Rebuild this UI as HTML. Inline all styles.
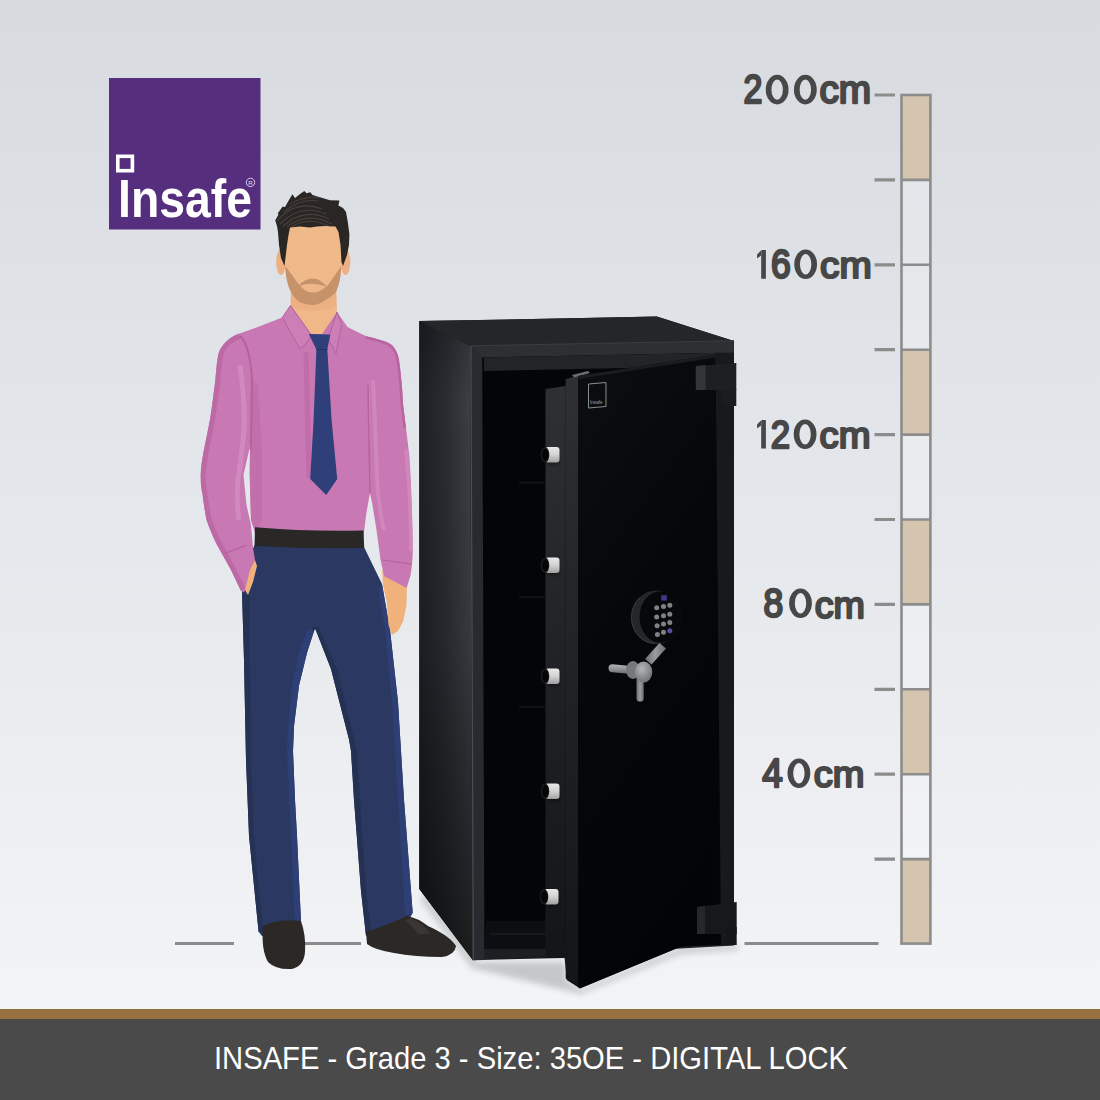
<!DOCTYPE html>
<html><head><meta charset="utf-8">
<style>
html,body{margin:0;padding:0;width:1100px;height:1100px;overflow:hidden;background:#e6e8ec;}
svg{display:block;position:absolute;left:0;top:0;}
.lbl{font-family:"Liberation Sans",sans-serif;font-weight:normal;fill:#474747;stroke:#474747;stroke-width:2.5px;stroke-linejoin:round;font-size:41.5px;}
</style></head><body>
<svg width="1100" height="1100" viewBox="0 0 1100 1100">
<defs>
<linearGradient id="bg" x1="0" y1="0" x2="0" y2="1">
<stop offset="0" stop-color="#d7dbe0"/>
<stop offset="0.5" stop-color="#e4e7eb"/>
<stop offset="1" stop-color="#f3f4f6"/>
</linearGradient>
</defs>
<!-- background -->
<rect x="0" y="0" width="1100" height="1010" fill="url(#bg)"/>

<!-- LOGO -->
<g id="logo">
<rect x="109" y="78" width="151.5" height="151.5" fill="#552f7e"/>
<rect x="117.8" y="156.3" width="14.6" height="14.4" fill="none" stroke="#fff" stroke-width="3.6"/>
<text x="118" y="216.5" font-family="Liberation Sans" font-weight="bold" font-size="54" fill="#fff" textLength="134" lengthAdjust="spacingAndGlyphs">Insafe</text>
<circle cx="250.5" cy="182.4" r="4.2" fill="none" stroke="#e6dcef" stroke-width="0.9"/>
<text x="250.6" y="184.6" font-family="Liberation Sans" font-size="6.2" fill="#e6dcef" text-anchor="middle">R</text>
</g>

<!-- RULER -->
<g id="ruler">
<rect x="901.5" y="95" width="28.9" height="848" fill="#fff" fill-opacity="0.22"/>
<rect x="901.5" y="95" width="28.9" height="84.9" fill="#d5c5ae"/>
<rect x="901.5" y="349.6" width="28.9" height="84.9" fill="#d5c5ae"/>
<rect x="901.5" y="519.4" width="28.9" height="84.9" fill="#d5c5ae"/>
<rect x="901.5" y="689.2" width="28.9" height="84.9" fill="#d5c5ae"/>
<rect x="901.5" y="859" width="28.9" height="84.9" fill="#d5c5ae"/>
<g stroke="#8c8c8c" stroke-width="2.6" fill="none">
<rect x="901.5" y="95" width="28.9" height="848.6"/>
<path d="M901 179.9H931M901 264.8H931M901 349.7H931M901 434.6H931M901 519.5H931M901 604.4H931M901 689.3H931M901 774.2H931M901 859.1H931"/>
</g>
<g stroke="#8c8c8c" stroke-width="3.2">
<path d="M874.5 95H895M874.5 179.9H895M874.5 264.8H895M874.5 349.7H895M874.5 434.6H895M874.5 519.5H895M874.5 604.4H895M874.5 689.3H895M874.5 774.2H895M874.5 859.1H895"/>
</g>
<g stroke="#8a8b8b" stroke-width="3">
<path d="M744.5 943.5H878.5M175 943.5H234M305 943.5H361"/>
</g>
<text class="lbl" transform="translate(743.48 102.74) scale(0.8190 0.9600)">2</text>
<path fill="#474747" fill-rule="evenodd" d="M765.75 89.65a11.4 14.8 0 1 0 22.80 0a11.4 14.8 0 1 0 -22.80 0ZM771.45 89.65a5.70 10.20 0 1 0 11.40 0a5.70 10.20 0 1 0 -11.40 0Z"/>
<path fill="#474747" fill-rule="evenodd" d="M793.95 89.65a11.4 14.8 0 1 0 22.80 0a11.4 14.8 0 1 0 -22.80 0ZM799.65 89.65a5.70 10.20 0 1 0 11.40 0a5.70 10.20 0 1 0 -11.40 0Z"/>
<text class="lbl" transform="translate(819.46 103.48) scale(0.9358 0.9208)">cm</text>
<path fill="#474747" d="M761.2 250.1 L765.9 250.1 L765.9 278.8 L761.2 278.8 ZM761.4 250.1 L757.1 254.4 L757.1 258.5 L761.4 255.29999999999998 Z"/>
<text class="lbl" transform="translate(771.05 278.42) scale(0.8545 0.9767)">6</text>
<path fill="#474747" fill-rule="evenodd" d="M794.25 264.30a11.4 14.8 0 1 0 22.80 0a11.4 14.8 0 1 0 -22.80 0ZM799.95 264.30a5.70 10.20 0 1 0 11.40 0a5.70 10.20 0 1 0 -11.40 0Z"/>
<text class="lbl" transform="translate(820.07 278.23) scale(0.9340 0.8750)">cm</text>
<path fill="#474747" d="M761.2 420.1 L765.9 420.1 L765.9 448.6 L761.2 448.6 ZM761.4 420.1 L757.1 424.40000000000003 L757.1 428.5 L761.4 425.3 Z"/>
<text class="lbl" transform="translate(770.76 447.65) scale(0.8381 0.9500)">2</text>
<path fill="#474747" fill-rule="evenodd" d="M793.70 434.25a11.4 14.8 0 1 0 22.80 0a11.4 14.8 0 1 0 -22.80 0ZM799.40 434.25a5.70 10.20 0 1 0 11.40 0a5.70 10.20 0 1 0 -11.40 0Z"/>
<text class="lbl" transform="translate(819.58 448.10) scale(0.9208 0.8958)">cm</text>
<text class="lbl" transform="translate(763.55 617.40) scale(0.8545 1.0000)">8</text>
<path fill="#474747" fill-rule="evenodd" d="M789.10 603.30a11.4 14.8 0 1 0 22.80 0a11.4 14.8 0 1 0 -22.80 0ZM794.80 603.30a5.70 10.20 0 1 0 11.40 0a5.70 10.20 0 1 0 -11.40 0Z"/>
<text class="lbl" transform="translate(814.69 617.50) scale(0.9075 0.9042)">cm</text>
<text class="lbl" transform="translate(762.30 786.84) scale(0.8870 0.9633)">4</text>
<path fill="#474747" fill-rule="evenodd" d="M787.50 773.30a11.4 14.8 0 1 0 22.80 0a11.4 14.8 0 1 0 -22.80 0ZM793.20 773.30a5.70 10.20 0 1 0 11.40 0a5.70 10.20 0 1 0 -11.40 0Z"/>
<text class="lbl" transform="translate(813.68 787.33) scale(0.9170 0.8750)">cm</text>
</g>


<!-- SAFE -->
<g id="safe">
<defs>
<linearGradient id="sidegr" x1="0" y1="0" x2="1" y2="0">
<stop offset="0" stop-color="#1c2024"/><stop offset="0.5" stop-color="#292d31"/><stop offset="0.93" stop-color="#3a3e42"/><stop offset="1" stop-color="#3a3e42"/>
</linearGradient>
<linearGradient id="vdark" x1="0" y1="0" x2="0" y2="1">
<stop offset="0" stop-color="#000" stop-opacity="0.22"/><stop offset="0.12" stop-color="#000" stop-opacity="0"/><stop offset="0.5" stop-color="#000" stop-opacity="0.1"/><stop offset="1" stop-color="#000" stop-opacity="0.55"/>
</linearGradient>
<linearGradient id="vlight" x1="0" y1="0" x2="0" y2="1">
<stop offset="0" stop-color="#fff" stop-opacity="0.08"/><stop offset="0.25" stop-color="#fff" stop-opacity="0"/>
</linearGradient>
<linearGradient id="edgegr" x1="0" y1="0" x2="0" y2="1">
<stop offset="0" stop-color="#2e3033"/><stop offset="0.4" stop-color="#222427"/><stop offset="1" stop-color="#131518"/>
</linearGradient>
<linearGradient id="doorgr" x1="0" y1="0" x2="0.3" y2="1">
<stop offset="0" stop-color="#0c0e11"/><stop offset="0.45" stop-color="#06070a"/><stop offset="1" stop-color="#030405"/>
</linearGradient>
<linearGradient id="bolt" x1="0" y1="0" x2="0" y2="1">
<stop offset="0" stop-color="#e8e8e8"/><stop offset="0.5" stop-color="#d2d2d2"/><stop offset="1" stop-color="#a0a0a0"/>
</linearGradient>
<linearGradient id="steel" x1="0" y1="0" x2="0" y2="1">
<stop offset="0" stop-color="#b0b2b4"/><stop offset="0.5" stop-color="#8e9093"/><stop offset="1" stop-color="#5f6164"/>
</linearGradient>
<linearGradient id="steelv" x1="0" y1="0" x2="1" y2="0">
<stop offset="0" stop-color="#6a6c6f"/><stop offset="0.5" stop-color="#9a9c9f"/><stop offset="1" stop-color="#6a6c6f"/>
</linearGradient>
<radialGradient id="hubgr" cx="0.4" cy="0.35" r="0.7">
<stop offset="0" stop-color="#b4b6b8"/><stop offset="1" stop-color="#6e7073"/>
</radialGradient>
<filter id="blur4" x="-50%" y="-50%" width="200%" height="200%"><feGaussianBlur stdDeviation="4"/></filter>
<filter id="blur3" x="-50%" y="-50%" width="200%" height="200%"><feGaussianBlur stdDeviation="3"/></filter>
<filter id="blur2" x="-50%" y="-50%" width="200%" height="200%"><feGaussianBlur stdDeviation="2"/></filter>
</defs>
<!-- shadow -->
<path d="M424 893 L476 962 L566 962 L566 980 L581 989 L680 948 L738 945 L738 950 L680 954 L581 994 L472 968 L421 900 Z" fill="#000" opacity="0.18" filter="url(#blur3)"/>
<!-- base silhouette -->
<path d="M419.3 321.1 L656.8 316.6 L733.9 341.1 L733.9 945 L680 947 L580 988 L567 980 L564.5 958 L472.7 960 L419.3 889 Z" fill="#1a1c1f"/>
<!-- top face -->
<path d="M419.3 321.1 L656.8 316.6 L733.9 341.1 L470 346.2 Z" fill="#242629"/>
<!-- side face -->
<path d="M419.3 321.1 L470.3 346.2 L472.7 960 L419.3 889 Z" fill="url(#sidegr)"/>
<path d="M419.3 321.1 L470.3 346.2 L472.7 960 L419.3 889 Z" fill="url(#vdark)"/>
<!-- front frame -->
<path d="M470 345.8 L733.9 340.8 L733.9 945.5 L472.7 960.3 Z" fill="#1d1f22"/>
<path d="M470 345.8 L733.9 340.8 L733.9 352.8 L482.3 357.5 Z" fill="#2d2f32"/>
<path d="M470 345.8 L733.9 340.8" stroke="#3b3d40" stroke-width="1"/>
<path d="M470 345.8 L482.3 357.5 L484.5 960 L472.7 960.3 Z" fill="#272b2f"/>
<path d="M470.3 346 L471.5 346 L473.9 960 L472.7 960 Z" fill="#4a4e52"/>
<!-- interior -->
<path d="M482.3 357.5 L722 352.8 L722 945 L484.5 949 Z" fill="#030507"/>
<path d="M484 357.5 L722 352.8 L722 366 L484 371 Z" fill="#222427"/>
<path d="M486 921 L546 921 L546 949 L484.5 949 Z" fill="#0c0e11"/>
<path d="M490 934 L546 934" stroke="#16181b" stroke-width="2"/>
<g stroke="#101316" stroke-width="2.2">
<path d="M519 482.6H545M519 597H545M519 707H545"/>
</g>
<!-- right body strip -->
<path d="M715.5 353 L733.9 352.8 L733.9 945 L721 945 Z" fill="#17191c"/>
<!-- door inner strip -->
<path d="M545.5 389 L565.7 386 L565.7 958 L545.5 958 Z" fill="url(#edgegr)"/>
<!-- door edge -->
<path d="M565.7 379 L578 376 L580 988.5 L567 980 L565.7 978 Z" fill="url(#edgegr)"/>
<path d="M572 375 L588 371 L590 373 L574 377.5 Z" fill="#6a6c6f"/>
<!-- door face -->
<path d="M578 376 L715.5 354.5 L718 944 L680 947 L580 988.5 L578 987 Z" fill="url(#doorgr)"/>
<path d="M578 376 L715.5 354.5 L715.5 357.5 L578 379 Z" fill="#1a1c1f"/>
<!-- door logo -->
<path d="M588.5 384 L606 382.5 L606 406.5 L588.5 408 Z" fill="none" stroke="#9a9b9d" stroke-width="0.9"/>
<text x="590" y="404" font-family="Liberation Sans" font-size="4.6" fill="#a0a1a3">Insafe</text>
<!-- hinges -->
<path d="M695.8 366 L736.3 363 L736.3 390 L695.8 390 Z" fill="#1d1f22"/>
<path d="M695.8 366 L705.6 365.3 L705.6 390 L695.8 390 Z" fill="#333538"/>
<path d="M722.8 389 L736.3 389 L736.3 406 L722.8 406 Z" fill="#1a1c1f"/>
<path d="M697 907 L736.7 902 L736.7 934 L697 934 Z" fill="#16181b"/>
<path d="M697 907 L705 906 L705 934 L697 934 Z" fill="#25272a"/>
<path d="M726.5 927 L736.7 927 L736.7 945 L727.8 945 Z" fill="#131518"/>
<!-- bolts -->
<g id="bolts">
<g id="b1">
<ellipse cx="553" cy="461" rx="7" ry="3" fill="#000" opacity="0.5" filter="url(#blur2)"/>
<rect x="545" y="447" width="14.5" height="15.5" rx="3" fill="url(#bolt)"/><ellipse cx="545" cy="454.7" rx="4.3" ry="7.7" fill="#1a1a1a"/><ellipse cx="545.3" cy="454.7" rx="3" ry="6" fill="#050505"/>
</g>
<use href="#b1" transform="translate(0,110.5)"/>
<use href="#b1" transform="translate(0,221.5)"/>
<use href="#b1" transform="translate(0,336.5)"/>
<use href="#b1" transform="translate(-1,442)"/>
</g>
<!-- keypad -->
<ellipse cx="656.3" cy="617.4" rx="25.2" ry="27" fill="#252628"/>
<ellipse cx="655.5" cy="617.4" rx="24" ry="26" fill="none" stroke="#3a3b3d" stroke-width="1" stroke-dasharray="0 40 60 200"/>
<ellipse cx="660.5" cy="617" rx="21" ry="25.8" fill="#07080a"/>
<rect x="661.2" y="595.2" width="5.6" height="5.4" fill="#43368f"/>
<g fill="#808184">
<circle cx="656.7" cy="607.7" r="2.5"/><circle cx="663.5" cy="606.5" r="2.5"/><circle cx="669.8" cy="605.3" r="2.5"/>
<circle cx="656.7" cy="617" r="2.5"/><circle cx="663.5" cy="615.7" r="2.5"/><circle cx="669.8" cy="614.2" r="2.5"/>
<circle cx="657.1" cy="625.7" r="2.5"/><circle cx="663.5" cy="624" r="2.5"/><circle cx="669.8" cy="622.5" r="2.5"/>
<circle cx="657.4" cy="634.4" r="2.5"/><circle cx="663.5" cy="632.2" r="2.5"/>
</g>
<circle cx="669.8" cy="630.8" r="2.5" fill="#5b4ca3"/>
<!-- handle -->
<path d="M659.5 643 L666 648.5 L651.5 664.5 L645 659 Z" fill="url(#steelv)"/>
<rect x="636.5" y="676" width="7.2" height="25.5" rx="3" fill="url(#steelv)"/>
<path d="M612.5 664.3 L636 666.5 L636 674.5 L612.5 672.3 A4 4 0 0 1 612.5 664.3 Z" fill="url(#steel)"/>
<ellipse cx="633" cy="670" rx="7" ry="9" fill="#76787b"/>
<ellipse cx="643.6" cy="672" rx="8.7" ry="10.5" fill="url(#hubgr)"/>
</g>

<!-- MAN -->
<g id="man">
<!-- pants -->
<clipPath id="pantsclip"><path id="pantsp" d="M254.5 545 C248 560 243 578 242 592 L244 660 L246 760 L249 836 L258.6 931.8 L262 936 L300 932 L301 922 L297 836 L295 800 L293 751 L294 726 L299 685.5 L307 652.7 L315 628 L331 669 L349 739.5 L351 751 L354 800 L361 891 L366 936 L410 918 L412.7 912.7 L404 800 L398 702 L390 630 L382 584 L364 547 Z"/></clipPath>
<use href="#pantsp" fill="#2a3862"/>
<g clip-path="url(#pantsclip)">
<path d="M318 628 L310 653 L302 686 L297 726 L296 751 L298 800 L300 836 L304 922 L295 925 L291 836 L289 800 L287 751 L288 726 L292 685 L299 652 L307 630 Z" fill="#2e3f76"/>
<path d="M384 584 L392 630 L400 702 L406 800 L415 913 L405 915 L398 800 L392 702 L385 630 L378 590 Z" fill="#2e3f76"/>
<path d="M238 592 L240 660 L242 760 L245 836 L254 932 L263 932 L254 836 L251 760 L250 660 L250 596 Z" fill="#263254"/>
<path d="M312 628 L328 669 L346 739.5 L348 751 L351 800 L358 891 L363 936 L371 932 L366 891 L360 800 L357 751 L354 739.5 L337 669 L318 626 Z" fill="#253153"/>
</g>
<!-- shoes -->
<path d="M263 926 Q280 918 301 921 Q306 935 305 952 Q304 966 292 969 Q276 970 268 962 Q261 950 263 926 Z" fill="#2b2826"/>
<path d="M366 932 Q385 926 407 916 Q418 918 428 926 Q450 936 456 946 Q455 955 442 957 Q415 957 394 953 Q375 950 367 944 Z" fill="#2b2826"/>
<path d="M410 918 Q425 924 430 934 L418 934 Q412 926 405 920 Z" fill="#3a3633"/>
<!-- left arm -->
<clipPath id="laclip"><path id="lap" d="M282.3 317.5 C270 324 250 330 238.6 333.8 C228 338 220 346 218 356 C216.5 365 216 372 215.4 380 C213.5 395 212 407 210.3 418 C208 430 206 440 203.9 450 C202 460 200.8 468 200.7 475.5 C200.6 484 201.5 490 202.6 494.5 C203.5 503 205 512 206.5 520 C210 530 215 542 221 552 L231 570 L241 591 L244 592 L251 580 L255 560 L253 548 L251 525 L246.5 505 L243.5 475 L249.7 447.5 L253 388 L250 340 Z"/></clipPath>
<use href="#lap" fill="#c878b2"/>
<g clip-path="url(#laclip)" fill="none">
<path d="M238.6 333.8 C228 338 220 346 218 356 C216.5 365 216 372 215.4 380 C213.5 395 212 407 210.3 418 C208 430 206 440 203.9 450 C202 460 200.8 468 200.7 475.5 C200.6 484 201.5 490 202.6 494.5 C203.5 503 205 512 206.5 520 C210 530 215 542 221 552 L231 570 L241 591" stroke="#bc69a5" stroke-width="10"/>
<path d="M240 365 Q245 400 244 430 Q241 460 238 480 Q236 500 239 520" stroke="#d38dc2" stroke-width="5" opacity="0.8"/>
<path d="M226 553 L247 545" stroke="#b5629e" stroke-width="1.2"/>
</g>
<!-- right arm -->
<path d="M382 570 L407 580 L406.5 605 L403.3 621 L398 631 L392 635 L388.5 625 L386.8 601.8 L383 585 Z" fill="#f0b27a"/>
<clipPath id="raclip"><path id="rap" d="M337 312 L341.5 324 C350 330 360 334 365.5 336 C375 338.5 385 340.5 391 344.5 C396 348.5 398.5 355 399.3 362 C401 375 402.5 390 403 403.7 C405 420 407.5 440 409 452.8 C410.5 470 411.3 490 411.6 502 C412.3 520 412.8 540 412.8 551 C412.5 562 411.5 570 410.4 575.7 L406.7 588 L384.3 576.3 L380.5 560 L376.5 530 L372.5 505 L370 493 L369 383 L360 345 Z"/></clipPath>
<use href="#rap" fill="#c878b2"/>
<g clip-path="url(#raclip)" fill="none">
<path d="M365.5 336 C375 338.5 385 340.5 391 344.5 C396 348.5 398.5 355 399.3 362 C401 375 402.5 390 403 403.7 C404 412 405 420 406 428" stroke="#b8649f" stroke-width="5"/>
<path d="M406 450 C408 470 409.5 490 410 502 C410.8 520 411 540 411 551" stroke="#d28bc1" stroke-width="4" opacity="0.8"/>
<path d="M373 380 Q376 440 377 480 Q379 510 384 530" stroke="#d18bc0" stroke-width="4" opacity="0.8"/>
<path d="M382 560 L412 564" stroke="#b5629e" stroke-width="1.2"/>
</g>
<!-- hands -->
<path d="M245 590 L250 570 L255 560 L257 566 L253 582 L248 595 Z" fill="#f0b27a"/>
<!-- torso -->
<path d="M290.5 305.5 L282.3 317.5 L250 330 L248 370 L251 400 L250 450 L249.7 475 L251 520 L255 533 L363.6 535 L366.5 512 L370 493 L369 383 L365 345 L365.5 336 L341.5 324 L337 312 Z" fill="#c878b2"/>
<path d="M251 380 L258 385 L262 450 L262 520 L256 533 L251 520 L249.7 475 L250 450 Z" fill="#bf6eaa" opacity="0.8"/>
<path d="M240 336 Q250 345 252 380 L251.5 420 L250.5 450" stroke="#b5629e" stroke-width="2" fill="none"/>
<path d="M368 385 L370 493" stroke="#b5629e" stroke-width="1.5" fill="none"/>
<path d="M306 352 L309 478" stroke="#b968a3" stroke-width="5" fill="none" opacity="0.6"/>
<!-- belt -->
<path d="M255 527.3 Q310 532 363.5 530.5 L364.2 548 Q310 549 254.5 546 Z" fill="#2a2826"/>
<!-- neck -->
<path d="M291 280 L336 280 L337 312 L322 334 L311 334 L290.5 306 Z" fill="#f0b788"/>
<path d="M291 292 L336 292 L336 306 Q313 316 291 306 Z" fill="#ecb082"/>
<!-- collar -->
<path d="M290.5 305.5 L310.9 334.4 L308.5 341 L300 349 L282.3 317.5 Z" fill="#cc7fb6" stroke="#b5629e" stroke-width="1"/>
<path d="M337 312 L329.5 335 L329.5 341.5 L336 353.5 L341.5 325 Z" fill="#cc7fb6" stroke="#b5629e" stroke-width="1"/>
<!-- tie -->
<path d="M316.4 349 L327.3 349 L331.6 420 L337.2 479 L326.2 495 L310.2 479 L313.6 420 Z" fill="#2f3f7a"/>
<path d="M308.8 334 L330.2 334.6 L327.3 349.5 L316.4 349.5 Z" fill="#2f3f7a"/>
<path d="M316.4 349.5 L327.3 349.5" stroke="#24325f" stroke-width="1"/>
<!-- ears -->
<ellipse cx="281" cy="262" rx="4.8" ry="13" fill="#eeb083"/>
<ellipse cx="345.5" cy="262" rx="4.8" ry="13" fill="#eeb083"/>
<!-- face -->
<path d="M287 220 L339 220 L341.4 240 L341.4 269 C340 280 338 287 335 292 C328 300 320 304 313.4 304.5 C306 304 298 300 292 292 C289 287 286 280 285.4 269 L285.4 240 Z" fill="#f0b98a"/>
<!-- beard -->
<path d="M285.3 266 C285.8 277 287.5 286 291.6 293 C295 299 299 302 303 303.3 C306 304.5 309 305 312.5 305 C317 305 322 302.5 326.4 299.4 C330 297 333.5 295 335.6 292.5 C339 286 340.8 277 341.3 266 L327 286.5 C323 283 320 280 316.3 279 C314.5 278.6 312.5 278.3 311 278.6 C306 279.5 302 282 299.3 285 Z" fill="#c6926a"/>
<path d="M300 285.6 Q312.5 281.5 326 286.4 Q320 292.5 312.5 292.6 Q305 292.4 300 285.6 Z" fill="#efb689"/>
<!-- hair -->
<clipPath id="hairclip"><path id="hairp" d="M275.2 220.5 L278.5 214.5 L277.8 213.2 L282.7 206.6 L285 207 L289 200 L292.4 194.3 L295 198 L300 194 L304.3 191 L306.5 193.2 L310.3 192.3 L312.5 195 L320 197.2 L330 200.3 L339.4 200.6 L338.4 205.5 L343 208 L346 212 L347.8 222 L349.4 234 L349 245 L347 255 L343 266 L341.5 262 L340.5 245 L338.5 232 L335.5 226.5 L325 226 L317 226.5 L310 227.5 L300 226.5 L290 227.5 L288.5 235 L287 245 L285.8 255 L284.5 266 L281 258 L279 245 L278 232 L277 226 Z"/></clipPath>
<use href="#hairp" fill="#2a2624"/>
<g stroke="#4d4642" stroke-width="1.1" fill="none" opacity="0.85" stroke-linecap="round" clip-path="url(#hairclip)">
<path d="M277 221 Q296 199 322 209"/>
<path d="M280 224 Q300 203 326 214"/>
<path d="M283 226 Q304 207 329 219"/>
<path d="M287 226.5 Q308 211 332 224"/>
<path d="M292 226.5 Q312 215 334 229"/>
<path d="M284 212 Q300 198 318 201"/>
<path d="M290 204 Q306 195 320 198"/>
</g>
</g>

<!-- BOTTOM BAR -->
<rect x="0" y="1009" width="1100" height="10" fill="#97713f"/>
<rect x="0" y="1019" width="1100" height="81" fill="#4a4a4a"/>
<text x="531" y="1069" font-family="Liberation Sans" font-size="32" fill="#fff" text-anchor="middle" textLength="634" lengthAdjust="spacingAndGlyphs">INSAFE - Grade 3 - Size: 35OE - DIGITAL LOCK</text>
</svg>
</body></html>
